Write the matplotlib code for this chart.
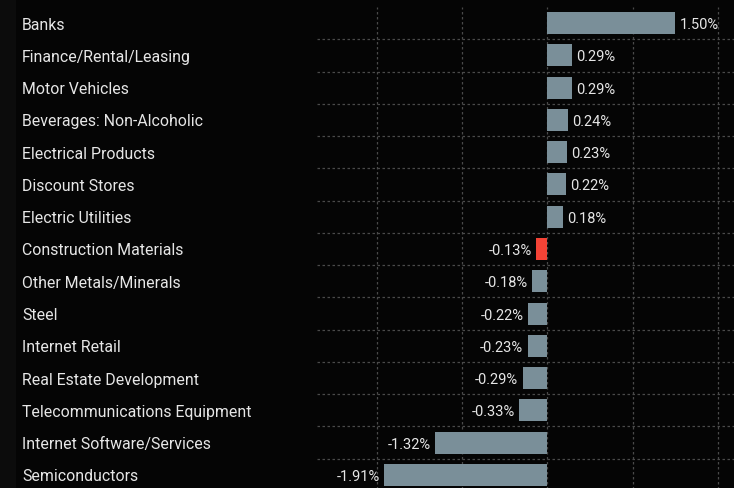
import matplotlib.pyplot as plt
import matplotlib.patches as mpatches
import matplotlib.transforms as mtransforms

plt.rcParams['font.family'] = ['Roboto', 'DejaVu Sans']

# sector performance (%)
sectors = [
    "Banks", "Finance/Rental/Leasing", "Motor Vehicles", "Beverages: Non-Alcoholic",
    "Electrical Products", "Discount Stores", "Electric Utilities", "Construction Materials",
    "Other Metals/Minerals", "Steel", "Internet Retail", "Real Estate Development",
    "Telecommunications Equipment", "Internet Software/Services", "Semiconductors",
]
values = [1.50, 0.29, 0.29, 0.24, 0.23, 0.22, 0.18, -0.13,
          -0.18, -0.22, -0.23, -0.29, -0.33, -1.32, -1.91]
highlight = "Construction Materials"

bg = "#050505"
bar_col = "#7a8f99"
red_col = "#f44336"
txt_col = "#e6e6e6"
grid_col = "#4a4a4a"

fig = plt.figure(figsize=(7.34, 4.89), dpi=100, facecolor=bg)
fig.patches.append(mpatches.Rectangle((0, 0), 16 / 734, 1, transform=fig.transFigure,
                                      facecolor="#0c0c0c", zorder=0))

ax = fig.add_axes([317 / 734, -3 / 489, 417 / 734, 484 / 489])
ax.set_facecolor(bg)

y = list(range(len(sectors)))
colors = [red_col if s == highlight else bar_col for s in sectors]
ax.barh(y, values, height=0.68, color=colors, zorder=3)

ax.set_xlim(-2.7, 2.19)
ax.set_ylim(len(sectors) - 0.5, -0.5)

# dotted grid
for gx in [-2, -1, 0, 1, 2]:
    ax.axvline(gx, color=grid_col, lw=0.9, ls=(0, (2, 2)), zorder=1)
for i in range(len(sectors) - 1):
    ax.axhline(i + 0.5, color=grid_col, lw=0.9, ls=(0, (2, 2)), zorder=1)

# value labels
for i, v in enumerate(values):
    if v >= 0:
        ax.text(v + 0.05, i + 0.03, f"{v:.2f}%", va="center", ha="left", color=txt_col, fontsize=10.5, zorder=4)
    else:
        ax.text(v - 0.05, i + 0.03, f"{v:.2f}%", va="center", ha="right", color=txt_col, fontsize=10.5, zorder=4)

# category labels, left aligned near figure edge
trans = mtransforms.blended_transform_factory(fig.transFigure, ax.transData)
for i, s in enumerate(sectors):
    fig.text(22 / 734, i + 0.03, s, transform=trans, va="center", ha="left", color=txt_col, fontsize=11.4)

ax.set_xticks([])
ax.set_yticks([])
for sp in ax.spines.values():
    sp.set_visible(False)

fig.savefig("out.png", dpi=100, facecolor=bg)
